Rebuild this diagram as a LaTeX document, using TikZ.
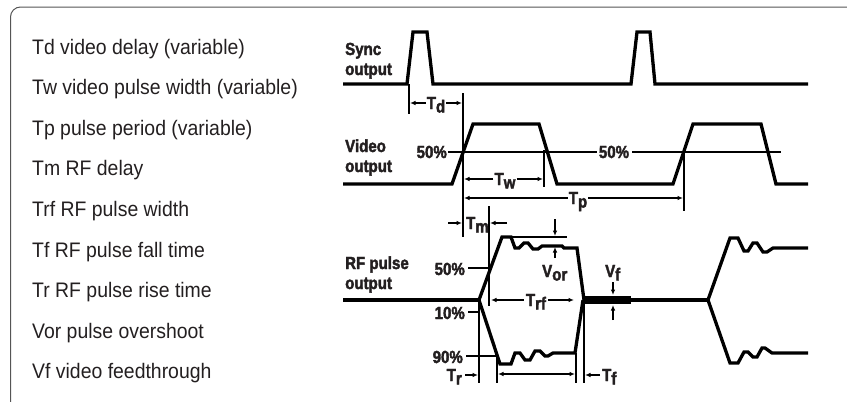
\documentclass[tikz,border=0pt]{standalone}
\usepackage{fontspec}
\setmainfont{Liberation Sans}
\newfontfamily\listfont{Liberation Sans}[FakeStretch=0.925]
\newfontfamily\labfont{Liberation Sans}[FakeStretch=0.86, BoldFeatures={FakeBold=2.2}]
\usetikzlibrary{arrows.meta}
\newcommand\lsub[1]{\raisebox{-0.2em}{#1}}
\definecolor{txt}{HTML}{231F20}
\definecolor{frame}{HTML}{555555}
\begin{document}
\begin{tikzpicture}[x=1pt,y=-1pt,
  wave/.style={line width=3.3pt, draw=black},
  thinline/.style={line width=1.4pt, draw=black},
  dim/.style={line width=1.1pt, draw=black, -{Latex[length=5.5pt,width=4.5pt]}},
  dimboth/.style={line width=1.1pt, draw=black, {Latex[length=5.5pt,width=4.5pt]}-{Latex[length=5.5pt,width=4.5pt]}},
  lab/.style={font=\labfont\bfseries\fontsize{17.5}{20}\selectfont, inner sep=0pt, text=txt},
  item/.style={font=\listfont\fontsize{21}{24}\selectfont, anchor=base west, inner sep=0pt, text=txt},
]
\useasboundingbox (0,0) rectangle (847,402);
\begin{scope}
\clip (0,0) rectangle (847,402);
\draw[frame, line width=1pt, rounded corners=10pt] (10.5,7) rectangle (858,412);
\end{scope}

% legend
\node[item] (l1) at (32,54) {Td video delay (variable)};
\node[item] (l2) at (32,94.6) {Tw video pulse width (variable)};
\node[item] (l3) at (32,135.2) {Tp pulse period (variable)};
\node[item] (l4) at (32,175.8) {Tm RF delay};
\node[item] (l5) at (32,216.4) {Trf RF pulse width};
\node[item] (l6) at (32,257) {Tf RF pulse fall time};
\node[item] (l7) at (32,297.6) {Tr RF pulse rise time};
\node[item] (l8) at (32,338.2) {Vor pulse overshoot};
\node[item] (l9) at (32,378.8) {Vf video feedthrough};

% signal names
\node[lab, anchor=base west] (sync1) at (345,55) {Sync};
\node[lab, anchor=base west] (sync2) at (345,75) {output};
\node[lab, anchor=base west] (vid1) at (345,152) {Video};
\node[lab, anchor=base west] (vid2) at (345,172) {output};
\node[lab, anchor=base west] (rf1) at (345,269) {RF pulse};
\node[lab, anchor=base west] (rf2) at (345,289) {output};

% sync waveform
\draw[wave] (343,84) -- (407,84) -- (413,32) -- (427,32) -- (433,84) -- (631,84) -- (637,32) -- (650,32) -- (655,84) -- (808,84);

% video waveform
\draw[wave] (343,184) -- (452,184) -- (473,124) -- (539,124) -- (557,184) -- (673,184) -- (693,124) -- (761,124) -- (776,184) -- (808,184);

% RF waveform
\draw[wave] (343,300) -- (479,300);
\draw[wave] (479,300) -- (502,237) -- (511,237) -- (515,248) -- (519,248) -- (524,243) -- (528,243) -- (533,249) -- (538,249) -- (542,246) -- (562,246) -- (564,248) -- (577,248) -- (584,300);
\draw[wave] (479,300) -- (500,364) -- (511,364) -- (515,353) -- (520,353) -- (525,360) -- (530,360) -- (535,351) -- (540,351) -- (545,356) -- (548,356) -- (553,353) -- (575,353) -- (583,300);
\draw[line width=8pt] (583,300) -- (631,300);
\draw[wave] (631,300) -- (708,300);
\draw[wave] (708,300) -- (730,238) -- (738,238) -- (744,251) -- (748,251) -- (753,243) -- (757,243) -- (763,252) -- (767,252) -- (773,248) -- (808,248);
\draw[wave] (708,300) -- (730,363) -- (738,363) -- (744,352) -- (748,352) -- (753,357) -- (757,357) -- (762,348) -- (765,348) -- (772,353) -- (808,353);

% Td
\coordinate (tdA) at (409,84);
\coordinate (tdB) at (409,114);
\draw[thinline] (tdA) -- (tdB);
\coordinate (lv1) at (463,93);
\coordinate (lv2) at (463,237);
\draw[thinline] (lv1) -- (lv2);
\node[lab, anchor=base] (td) at (436,109) {T\lsub{d}};
\coordinate (tdL) at (410,103);
\coordinate (tdR) at (462,103);
\draw[dim] (td.west |- tdL) ++(-1,0) -- (tdL);
\draw[dim] (td.east |- tdR) ++(1,0) -- (tdR);

% 50% lines video
\coordinate (p1) at (448,152); \coordinate (p2) at (597,152);
\coordinate (p3) at (632,152); \coordinate (p4) at (781,152);
\draw[thinline] (p1) -- (p2);
\draw[thinline] (p3) -- (p4);
\node[lab, anchor=base east] (v50a) at (447,158) {50\%};
\node[lab, anchor=base] (v50b) at (614,158) {50\%};

% Tw
\coordinate (tw1) at (544,150); \coordinate (tw2) at (544,187);
\draw[thinline] (tw1) -- (tw2);
\node[lab, anchor=base] (tw) at (505,185) {T\lsub{w}};
\coordinate (twL) at (464,179); \coordinate (twR) at (543,179);
\draw[dim] (tw.west |- twL) ++(-1,0) -- (twL);
\draw[dim] (tw.east |- twR) ++(1,0) -- (twR);

% Tp
\coordinate (tp1) at (684,150); \coordinate (tp2) at (684,211);
\draw[thinline] (tp1) -- (tp2);
\node[lab, anchor=base] (tp) at (578,204) {T\lsub{p}};
\coordinate (tpL) at (464,198); \coordinate (tpR) at (683,198);
\draw[dim] (tp.west |- tpL) ++(-1,0) -- (tpL);
\draw[dim] (tp.east |- tpR) ++(1,0) -- (tpR);

% Tm
\coordinate (tm1) at (489,206); \coordinate (tm2) at (489,306);
\draw[thinline] (tm1) -- (tm2);
\node[lab, anchor=base west] (tm) at (466,229) {T\lsub{m}};
\coordinate (tmL) at (448,223); \coordinate (tmLt) at (462,223);
\coordinate (tmR) at (507,223); \coordinate (tmRt) at (490,223);
\draw[dim] (tmL) -- (tmLt);
\draw[dim] (tmR) -- (tmRt);

% Vor
\coordinate (vo1) at (511,237); \coordinate (vo2) at (567,237);
\draw[thinline, line width=1.1pt] (vo1) -- (vo2);
\coordinate (voa) at (555,219); \coordinate (voat) at (555,236);
\coordinate (vob) at (555,258); \coordinate (vobt) at (555,247);
\draw[dim] (voa) -- (voat);
\draw[dim] (vob) -- (vobt);
\node[lab, anchor=base west] (vor) at (542,277) {V\lsub{or}};

% Trf
\node[lab, anchor=base] (trf) at (536,306) {T\lsub{rf}};
\coordinate (trfL) at (491,300); \coordinate (trfR) at (574,300);
\draw[dim] (trf.west |- trfL) ++(-2,0) -- (trfL);
\draw[dim] (trf.east |- trfR) ++(2,0) -- (trfR);

% percent levels RF
\node[lab, anchor=base east] (r50) at (465,275) {50\%};
\coordinate (r50a) at (468,268); \coordinate (r50b) at (490,268);
\draw[thinline] (r50a) -- (r50b);
\node[lab, anchor=base east] (r10) at (465,319) {10\%};
\coordinate (r10a) at (468,312); \coordinate (r10b) at (480,312);
\draw[thinline] (r10a) -- (r10b);
\node[lab, anchor=base east] (r90) at (463,363) {90\%};
\coordinate (r90a) at (466,356); \coordinate (r90b) at (497,356);
\draw[thinline] (r90a) -- (r90b);

% lower verticals
\coordinate (lw1a) at (479,300); \coordinate (lw1b) at (479,383);
\coordinate (lw2a) at (497,356); \coordinate (lw2b) at (497,383);
\coordinate (lw3a) at (576,353); \coordinate (lw3b) at (576,383);
\coordinate (lw4a) at (584,300); \coordinate (lw4b) at (584,383);
\draw[thinline] (lw1a) -- (lw1b);
\draw[thinline] (lw2a) -- (lw2b);
\draw[thinline] (lw3a) -- (lw3b);
\draw[thinline] (lw4a) -- (lw4b);

% Tr, Tf
\node[lab, anchor=base east] (tr) at (462,381) {T\lsub{r}};
\coordinate (trA) at (465,375); \coordinate (trB) at (478,375);
\draw[dim] (trA) -- (trB);
\coordinate (mA) at (498,374); \coordinate (mB) at (575,374);
\draw[dimboth] (mA) -- (mB);
\node[lab, anchor=base west] (tf) at (602,381) {T\lsub{f}};
\coordinate (tfA) at (600,375); \coordinate (tfB) at (585,375);
\draw[dim] (tfA) -- (tfB);

% Vf
\node[lab, anchor=base west] (vf) at (605,277) {V\lsub{f}};
\coordinate (vfa) at (613,282); \coordinate (vfat) at (613,295);
\coordinate (vfb) at (613,320); \coordinate (vfbt) at (613,305);
\draw[dim] (vfa) -- (vfat);
\draw[dim] (vfb) -- (vfbt);
\end{tikzpicture}
\end{document}
